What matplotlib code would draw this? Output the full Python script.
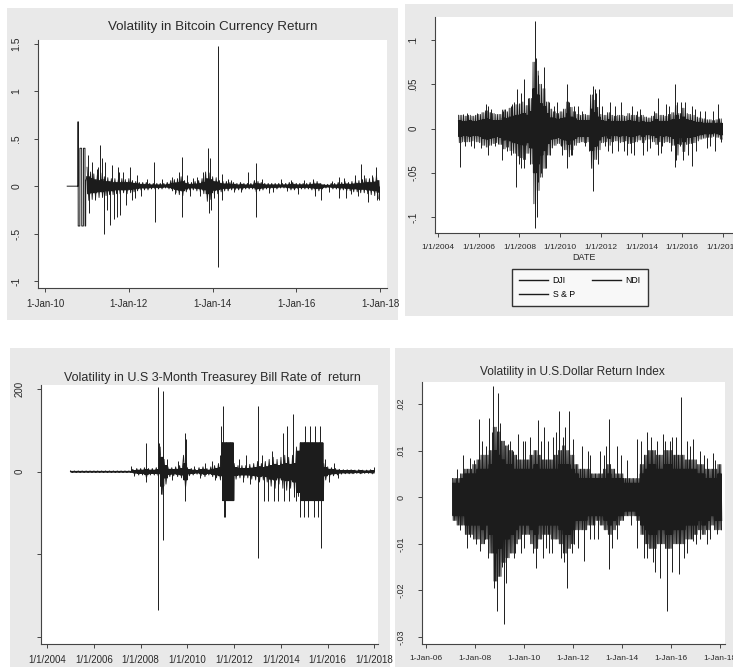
import numpy as np
import pandas as pd
import matplotlib
matplotlib.use("Agg")
import matplotlib.pyplot as plt
import matplotlib.dates as mdates
from matplotlib.lines import Line2D
from matplotlib.patches import Rectangle

plt.rcParams['font.family'] = ['Liberation Sans', 'DejaVu Sans']

INK = '#1c1c1c'
TXT = '#2a2a2a'
BG = '#e9e9e9'

# ---------------- Panel 1: Bitcoin ----------------
btc_title = "Volatility in Bitcoin Currency Return"
btc_early_dates = ['2010-07-12', '2010-10-14', '2010-10-15', '2010-10-16', '2010-10-30', '2010-10-31',
                   '2010-11-15', '2010-11-16', '2010-11-30', '2010-12-01', '2010-12-14', '2010-12-15',
                   '2010-12-20', '2010-12-21', '2010-12-31']
btc_early_vals = [0, 0, 0.68, -0.42, -0.42, 0.40,
                  0.40, -0.42, -0.42, 0.40, 0.40, -0.42,
                  -0.42, 0.05, 0.10]
btc_band_start = '2011-01-01'
# outer envelope (monthly)
btc_outer_hi = [.20, .15, .13, .12, .14, .10, .09, .08, .08, .07, .08, .07,
                .08, .06, .05, .04, .04, .04, .03, .03, .03, .03, .03, .04,
                .06, .07, .08, .10, .06, .04, .04, .05, .06, .08, .15, .14,
                .10, .09, .06, .05, .05, .04, .04, .03, .04, .03, .03, .03,
                .06, .05, .04, .03, .03, .03, .03, .03, .03, .03, .04, .04,
                .03, .03, .03, .03, .04, .05, .05, .03, .02, .02, .03, .03,
                .04, .04, .05, .04, .05, .06, .06, .07, .08, .08, .09, .12]
btc_outer_lo = [-.15, -.14, -.13, -.12, -.12, -.10, -.09, -.09, -.08, -.08, -.07, -.08,
                -.07, -.06, -.05, -.04, -.04, -.04, -.03, -.03, -.03, -.03, -.02, -.03,
                -.05, -.07, -.09, -.10, -.06, -.04, -.04, -.05, -.06, -.08, -.16, -.14,
                -.09, -.08, -.06, -.05, -.05, -.04, -.04, -.04, -.04, -.03, -.03, -.03,
                -.06, -.05, -.04, -.03, -.03, -.03, -.03, -.02, -.02, -.03, -.04, -.04,
                -.03, -.03, -.03, -.03, -.04, -.05, -.05, -.03, -.02, -.02, -.03, -.03,
                -.04, -.04, -.05, -.05, -.06, -.06, -.07, -.07, -.08, -.09, -.10, -.13]
# dense dark core (monthly)
btc_core_hi = [.10, .08, .07, .06, .07, .05, .05, .04, .04, .04, .04, .04,
               .04, .03, .03, .02, .02, .02, .015, .015, .015, .015, .015, .02,
               .03, .035, .04, .05, .03, .02, .02, .025, .03, .04, .08, .07,
               .05, .045, .03, .025, .025, .02, .02, .015, .02, .015, .015, .015,
               .03, .025, .02, .015, .015, .015, .015, .015, .015, .015, .02, .02,
               .015, .015, .015, .015, .02, .025, .025, .015, .01, .01, .015, .015,
               .02, .02, .025, .02, .025, .03, .03, .035, .04, .04, .045, .06]
btc_core_lo = [-.08, -.07, -.07, -.06, -.06, -.05, -.05, -.05, -.04, -.04, -.04, -.04,
               -.035, -.03, -.025, -.02, -.02, -.02, -.015, -.015, -.015, -.015, -.01, -.015,
               -.025, -.035, -.045, -.05, -.03, -.02, -.02, -.025, -.03, -.04, -.08, -.07,
               -.045, -.04, -.03, -.025, -.025, -.02, -.02, -.02, -.02, -.015, -.015, -.015,
               -.03, -.025, -.02, -.015, -.015, -.015, -.015, -.01, -.01, -.015, -.02, -.02,
               -.015, -.015, -.015, -.015, -.02, -.025, -.025, -.015, -.01, -.01, -.015, -.015,
               -.02, -.02, -.025, -.025, -.03, -.03, -.035, -.035, -.04, -.045, -.05, -.065]
btc_spike_dates = ['2011-01-10', '2011-01-20', '2011-02-15', '2011-03-10', '2011-04-05', '2011-04-25',
                   '2011-05-10', '2011-05-30', '2011-06-10', '2011-06-20', '2011-07-20', '2011-08-05',
                   '2011-08-25', '2011-09-20', '2011-09-28', '2011-10-20', '2011-11-15', '2011-12-10',
                   '2012-01-15', '2012-01-25', '2012-03-10', '2012-04-20', '2012-08-10', '2012-08-15',
                   '2012-10-15', '2013-01-15', '2013-03-10', '2013-04-10', '2013-04-12', '2013-05-20',
                   '2013-06-15', '2013-08-20', '2013-10-10', '2013-11-18', '2013-11-28', '2013-12-10',
                   '2013-12-20', '2014-02-13', '2014-02-14', '2014-03-20', '2014-03-28', '2014-05-15',
                   '2014-07-10', '2014-11-10', '2015-01-14', '2015-01-16', '2015-03-10', '2015-06-10',
                   '2015-08-18', '2015-10-10', '2016-01-15', '2016-05-28', '2016-06-15', '2016-08-05',
                   '2016-11-10', '2017-01-05', '2017-01-12', '2017-03-10', '2017-05-25', '2017-06-20',
                   '2017-07-20', '2017-08-10', '2017-09-15', '2017-10-20', '2017-11-29', '2017-12-10',
                   '2017-12-22', '2011-03-25', '2011-06-01', '2011-10-05', '2012-02-20', '2012-06-10',
                   '2013-02-10', '2013-07-10', '2013-09-15', '2014-01-10', '2014-06-10', '2014-09-10',
                   '2015-05-10', '2015-11-20', '2016-03-10', '2016-10-10', '2017-02-20', '2017-04-20']
btc_spike_vals = [0.33, -0.28, 0.25, -0.15, 0.20, 0.43,
                  0.30, -0.50, 0.25, -0.25, -0.41, 0.22,
                  -0.35, -0.33, 0.20, -0.30, 0.15, -0.20,
                  0.20, -0.15, 0.12, -0.10, 0.25, -0.38,
                  0.08, 0.10, 0.15, 0.31, -0.33, 0.12,
                  -0.10, 0.10, 0.15, 0.40, -0.28, 0.30,
                  -0.25, 1.48, -0.85, 0.13, -0.15, 0.08,
                  -0.06, 0.15, 0.24, -0.32, 0.08, -0.06,
                  0.08, -0.05, -0.08, 0.08, -0.10, -0.15,
                  0.05, 0.10, -0.12, -0.12, 0.12, -0.10,
                  0.23, 0.12, -0.17, 0.12, 0.20, -0.15,
                  -0.15, 0.18, -0.22, 0.15, -0.12, 0.08,
                  -0.08, 0.09, -0.10, -0.12, 0.07, -0.06,
                  -0.07, 0.06, 0.07, -0.06, 0.09, -0.08]
btc_ticks = ['2010-01-01', '2012-01-01', '2014-01-01', '2016-01-01', '2018-01-01']
btc_yticks = [-1, -0.5, 0, 0.5, 1, 1.5]
btc_ylabels = ['-1', '-.5', '0', '.5', '1', '1.5']

# ---------------- Panel 2: Stock indices ----------------
stk_series = ['DJI', 'S & P', 'NDI']
stk_band_start = '2005-01-01'
stk_outer_hi = [.015, .015, .014, .015, .014, .015,
                .016, .018, .020, .018, .017, .016,
                .016, .021, .019, .023, .025, .027,
                .028, .030, .026, .034, .075, .065,
                .050, .045, .030, .022, .019, .017,
                .019, .022, .030, .024, .019, .016,
                .015, .016, .015, .038, .032, .024,
                .016, .015, .018, .015, .014, .015,
                .015, .014, .017, .015, .015, .013,
                .015, .013, .012, .014, .017, .015,
                .015, .014, .016, .018, .026, .017,
                .023, .017, .016, .015, .013, .012,
                .011, .010, .010, .009, .010, .011]
stk_outer_lo = [-.016, -.015, -.015, -.015, -.014, -.015,
                -.016, -.019, -.021, -.019, -.017, -.016,
                -.018, -.023, -.021, -.025, -.028, -.031,
                -.033, -.035, -.028, -.040, -.085, -.070,
                -.055, -.045, -.030, -.022, -.019, -.017,
                -.019, -.024, -.032, -.024, -.019, -.016,
                -.015, -.016, -.015, -.045, -.035, -.024,
                -.016, -.015, -.019, -.015, -.014, -.016,
                -.015, -.014, -.017, -.016, -.015, -.013,
                -.016, -.013, -.012, -.015, -.018, -.015,
                -.016, -.015, -.016, -.019, -.030, -.018,
                -.026, -.018, -.017, -.016, -.014, -.012,
                -.011, -.010, -.010, -.009, -.010, -.012]
stk_core_hi = [.009, .008, .008, .009, .008, .008,
               .009, .010, .011, .010, .009, .009,
               .009, .012, .011, .013, .014, .015,
               .016, .017, .015, .019, .045, .038,
               .028, .025, .017, .012, .011, .010,
               .011, .012, .017, .013, .011, .009,
               .009, .009, .009, .022, .018, .013,
               .009, .008, .010, .008, .008, .008,
               .008, .008, .009, .008, .008, .007,
               .008, .007, .007, .008, .010, .008,
               .008, .008, .009, .010, .015, .010,
               .013, .010, .009, .008, .007, .007,
               .006, .006, .006, .005, .006, .006]
stk_core_lo = [-.009, -.008, -.008, -.009, -.008, -.008,
               -.009, -.011, -.012, -.011, -.010, -.009,
               -.010, -.013, -.012, -.014, -.016, -.017,
               -.018, -.019, -.016, -.022, -.050, -.040,
               -.030, -.025, -.017, -.012, -.011, -.010,
               -.011, -.013, -.018, -.013, -.011, -.009,
               -.009, -.009, -.009, -.025, -.020, -.013,
               -.009, -.008, -.011, -.008, -.008, -.009,
               -.008, -.008, -.009, -.009, -.008, -.007,
               -.009, -.007, -.007, -.008, -.010, -.008,
               -.009, -.008, -.009, -.011, -.017, -.010,
               -.015, -.010, -.010, -.009, -.008, -.007,
               -.006, -.006, -.006, -.005, -.006, -.007]
stk_spike_dates = ['2005-01-20', '2005-03-15', '2005-04-20', '2005-10-15', '2006-05-15', '2006-06-10',
                   '2006-06-20', '2006-10-10', '2007-02-27', '2007-03-10', '2007-07-25', '2007-08-10',
                   '2007-08-15', '2007-11-08', '2007-11-20', '2007-12-15', '2008-01-20', '2008-01-25',
                   '2008-03-15', '2008-03-18', '2008-06-10', '2008-07-15', '2008-09-29', '2008-10-10',
                   '2008-10-13', '2008-10-28', '2008-11-15', '2008-11-20', '2008-12-05', '2009-01-20',
                   '2009-03-10', '2009-03-20', '2009-04-20', '2009-06-15', '2009-11-10', '2010-01-20',
                   '2010-05-06', '2010-05-10', '2010-06-15', '2010-07-15', '2010-09-01', '2011-03-15',
                   '2011-08-08', '2011-08-09', '2011-08-20', '2011-09-20', '2011-10-10', '2011-11-10',
                   '2011-11-30', '2012-05-10', '2012-06-10', '2012-11-10', '2013-01-02', '2013-04-15',
                   '2013-06-20', '2013-10-15', '2014-02-03', '2014-04-10', '2014-08-10', '2014-10-15',
                   '2014-10-20', '2015-01-05', '2015-03-20', '2015-06-20', '2015-08-24', '2015-08-26',
                   '2015-09-15', '2015-10-05', '2015-11-20', '2016-01-07', '2016-02-15', '2016-06-24',
                   '2016-06-28', '2016-09-10', '2016-11-10', '2017-05-17', '2017-08-15', '2017-10-10',
                   '2017-12-01',
                   '2005-06-10', '2005-08-10', '2005-12-05', '2006-02-10', '2006-08-10', '2006-12-10',
                   '2007-04-20', '2007-05-20', '2007-10-01', '2009-07-10', '2009-09-10', '2010-02-05',
                   '2010-08-10', '2010-11-10', '2011-01-20', '2011-06-10', '2012-01-20', '2012-03-10',
                   '2012-07-20', '2012-09-10', '2013-02-20', '2013-07-10', '2013-08-20', '2013-12-10',
                   '2014-06-10', '2014-12-10', '2015-05-10', '2015-12-10', '2016-04-10', '2016-08-10',
                   '2017-02-10', '2017-03-20', '2017-07-10']
stk_spike_vals = [-0.043, 0.016, -0.020, -0.022, 0.028, -0.030,
                  0.025, -0.020, -0.035, 0.020, 0.025, -0.030,
                  0.028, -0.066, 0.045, -0.040, -0.045, 0.040,
                  0.056, -0.045, 0.035, -0.040, -0.088, 0.121,
                  -0.112, 0.080, -0.100, 0.060, -0.060, -0.050,
                  0.070, 0.055, -0.045, 0.030, 0.030, -0.020,
                  -0.045, 0.050, 0.030, -0.030, 0.025, -0.020,
                  -0.070, 0.048, -0.050, 0.045, 0.040, -0.040,
                  0.045, -0.025, 0.030, -0.025, 0.030, -0.030,
                  -0.028, 0.020, -0.030, -0.025, 0.020, -0.030,
                  0.035, -0.020, 0.028, -0.025, -0.043, 0.050,
                  -0.035, 0.030, -0.020, -0.035, 0.030, -0.042,
                  0.025, -0.025, 0.020, -0.020, -0.025, 0.028,
                  -0.015,
                  0.018, -0.020, 0.017, -0.022, 0.022, -0.018,
                  0.022, -0.025, 0.030, -0.030, 0.025, -0.030,
                  -0.030, 0.025, 0.020, -0.025, 0.025, -0.020,
                  -0.028, 0.025, -0.025, 0.025, -0.030, 0.022,
                  -0.022, -0.028, 0.025, 0.030, -0.030, 0.022,
                  0.020, -0.022, 0.020]
stk_ticks = ['2004-01-01', '2006-01-01', '2008-01-01', '2010-01-01', '2012-01-01',
             '2014-01-01', '2016-01-01', '2018-01-01']
stk_yticks = [-0.1, -0.05, 0, 0.05, 0.1]
stk_ylabels = ['-.1', '-.05', '0', '.05', '.1']

# ---------------- Panel 3: T-bill ----------------
tb_title = "Volatility in U.S 3-Month Treasurey Bill Rate of  return"
tb_band_start = '2005-01-01'
tb_outer_hi = [2, 2, 2, 2, 2, 2,
               2, 2, 2, 2, 2, 2,
               2, 2, 2, 2, 6, 8,
               8, 10, 8, 8, 10, 60,
               30, 12, 10, 12, 15, 40,
               10, 8, 6, 10, 12, 8,
               12, 15, 20, 70, 70, 70,
               20, 15, 15, 15, 18, 20,
               25, 20, 25, 30, 35, 30,
               35, 40, 35, 40, 60, 70,
               70, 70, 70, 70, 70, 20,
               12, 10, 8, 6, 5, 5,
               5, 4, 5, 4, 4, 5]
tb_outer_lo = [-2, -2, -2, -2, -2, -2,
               -2, -2, -2, -2, -2, -2,
               -2, -2, -2, -2, -6, -8,
               -8, -15, -8, -8, -10, -55,
               -30, -12, -10, -12, -15, -40,
               -10, -8, -6, -10, -12, -8,
               -12, -15, -20, -70, -70, -70,
               -18, -15, -15, -15, -18, -20,
               -25, -20, -25, -35, -40, -30,
               -40, -45, -40, -50, -60, -70,
               -70, -70, -70, -70, -70, -20,
               -12, -10, -8, -6, -5, -5,
               -5, -4, -5, -4, -4, -5]
tb_core_hi = [1, 1, 1, 1, 1, 1,
              1, 1, 1, 1, 1, 1,
              1, 1, 1, 1, 3, 4,
              4, 5, 4, 4, 5, 35,
              15, 6, 5, 6, 8, 20,
              5, 4, 3, 5, 6, 4,
              6, 8, 10, 70, 70, 70,
              10, 8, 8, 8, 9, 10,
              12, 10, 12, 15, 18, 15,
              18, 20, 18, 20, 50, 70,
              70, 70, 70, 70, 70, 10,
              6, 5, 4, 3, 3, 3,
              3, 2, 3, 2, 2, 3]
tb_core_lo = [-1, -1, -1, -1, -1, -1,
              -1, -1, -1, -1, -1, -1,
              -1, -1, -1, -1, -3, -4,
              -4, -7, -4, -4, -5, -35,
              -15, -6, -5, -6, -8, -20,
              -5, -4, -3, -5, -6, -4,
              -6, -8, -10, -70, -70, -70,
              -9, -8, -8, -8, -9, -10,
              -12, -10, -12, -18, -20, -15,
              -20, -22, -20, -25, -50, -70,
              -70, -70, -70, -70, -70, -10,
              -6, -5, -4, -3, -3, -3,
              -3, -2, -3, -2, -2, -3]
tb_spike_dates = ['2007-08-10', '2007-09-15', '2008-03-20', '2008-03-25', '2008-09-22', '2008-09-24',
                  '2008-10-20', '2008-11-10', '2008-12-15', '2008-12-18', '2009-02-10', '2009-05-10',
                  '2009-08-10', '2009-11-25', '2009-12-01', '2009-12-10', '2010-04-10', '2010-07-10',
                  '2010-10-10', '2011-01-15', '2011-03-10', '2011-05-20', '2011-06-15', '2011-07-10',
                  '2011-07-20', '2011-08-10', '2012-03-10', '2012-05-15', '2012-07-10', '2012-09-10',
                  '2012-12-31', '2013-01-03', '2013-03-10', '2013-04-10', '2013-06-20', '2013-08-20',
                  '2013-09-20', '2013-11-10', '2014-01-30', '2014-02-20', '2014-04-10', '2014-05-10',
                  '2014-07-05', '2014-07-20', '2014-08-25', '2014-10-30', '2014-12-20', '2015-01-15',
                  '2015-03-05', '2015-04-01', '2015-05-25', '2015-06-20', '2015-08-10', '2015-09-05',
                  '2015-09-15', '2015-11-20', '2016-01-20', '2016-04-10', '2016-06-10', '2017-12-20']
tb_spike_vals = [15, -10, 70, -25, 205, -335,
                 70, -55, 195, -165, 30, -20,
                 25, 93, -70, 80, 15, -15,
                 20, 25, -20, 40, 110, 160,
                 -110, -110, 30, -25, 40, -30,
                 160, -209, 40, -70, -70, 50,
                 -70, -70, 94, -70, 111, -70,
                 140, -60, -70, -110, -110, 110,
                 -110, 110, -110, 110, -110, 110,
                 -185, 30, -25, 20, -15, 12]
tb_ticks = ['2004-01-01', '2006-01-01', '2008-01-01', '2010-01-01', '2012-01-01',
            '2014-01-01', '2016-01-01', '2018-01-01']
tb_yticks = [-400, -200, 0, 200]
tb_ylabels = ['', '', '0', '200']

# ---------------- Panel 4: USD ----------------
usd_title = "Volatility in U.S.Dollar Return Index"
usd_band_start = '2007-02-01'
usd_outer_hi = [.004, .004, .005, .006, .006, .007,
                .008, .009, .009, .010, .015, .014,
                .012, .011, .010, .009, .008, .008,
                .008, .009, .010, .009, .008, .008,
                .008, .009, .010, .011, .010, .009,
                .007, .006, .006, .006, .005, .005,
                .005, .006, .007, .006, .005, .005,
                .004, .004, .004, .004, .007, .009,
                .010, .010, .009, .009, .010, .010,
                .009, .009, .009, .008, .008, .008,
                .007, .007, .006, .006, .006, .007]
usd_outer_lo = [-.005, -.006, -.006, -.008, -.008, -.009,
                -.009, -.010, -.009, -.012, -.018, -.017,
                -.014, -.013, -.012, -.010, -.009, -.008,
                -.008, -.010, -.011, -.009, -.008, -.008,
                -.009, -.009, -.010, -.012, -.011, -.010,
                -.007, -.007, -.007, -.006, -.006, -.005,
                -.006, -.007, -.008, -.007, -.006, -.005,
                -.004, -.004, -.004, -.005, -.008, -.010,
                -.011, -.011, -.010, -.010, -.011, -.011,
                -.010, -.010, -.010, -.009, -.009, -.008,
                -.007, -.008, -.007, -.006, -.007, -.007]
usd_core_hi = [.003, .003, .004, .005, .005, .005,
               .006, .006, .006, .007, .010, .009,
               .008, .007, .007, .006, .006, .006,
               .006, .006, .007, .006, .006, .006,
               .006, .006, .007, .007, .007, .006,
               .005, .004, .004, .004, .004, .004,
               .004, .004, .005, .004, .004, .004,
               .003, .003, .003, .003, .005, .006,
               .007, .007, .006, .006, .007, .007,
               .006, .006, .006, .006, .006, .006,
               .005, .005, .004, .004, .004, .005]
usd_core_lo = [-.004, -.004, -.004, -.006, -.006, -.006,
               -.006, -.007, -.006, -.008, -.012, -.011,
               -.009, -.009, -.008, -.007, -.006, -.006,
               -.006, -.007, -.008, -.006, -.006, -.006,
               -.006, -.006, -.007, -.008, -.008, -.007,
               -.005, -.005, -.005, -.004, -.004, -.004,
               -.004, -.005, -.006, -.005, -.004, -.004,
               -.003, -.003, -.003, -.004, -.006, -.007,
               -.008, -.008, -.007, -.007, -.008, -.008,
               -.007, -.007, -.007, -.006, -.006, -.006,
               -.005, -.006, -.005, -.004, -.005, -.005]
usd_spike_dates = ['2007-07-08', '2007-10-15', '2007-10-20', '2008-03-07', '2008-03-12', '2008-05-30',
                   '2008-08-03', '2008-10-01', '2008-10-12', '2008-11-17', '2008-12-13', '2009-01-08',
                   '2009-03-15', '2009-04-08', '2009-05-12', '2009-07-24', '2009-07-28', '2009-10-08',
                   '2009-12-20', '2009-12-24', '2010-03-28', '2010-06-24', '2010-08-03', '2010-10-16',
                   '2010-10-20', '2010-12-28', '2011-01-02', '2011-03-15', '2011-05-30', '2011-08-08',
                   '2011-08-12', '2011-10-08', '2011-10-27', '2012-01-05', '2012-01-09', '2012-05-08',
                   '2012-06-17', '2012-09-10', '2012-09-14', '2013-02-06', '2013-05-08', '2013-06-25',
                   '2013-06-21', '2013-10-12', '2013-10-16', '2014-03-10', '2014-08-08', '2014-08-12',
                   '2015-01-02', '2015-01-06', '2015-05-08', '2015-07-20', '2015-09-10', '2015-10-05',
                   '2015-11-08', '2016-01-12', '2016-01-16', '2016-05-05', '2016-05-30', '2016-08-22',
                   '2016-08-26', '2016-11-18', '2016-11-22', '2017-03-08', '2017-03-12', '2017-06-18',
                   '2017-06-22', '2017-09-24', '2017-11-10',
                   '2007-04-10', '2007-05-20', '2007-09-01', '2007-12-10', '2008-01-15', '2008-04-20',
                   '2008-06-20', '2008-07-10', '2008-09-05', '2009-02-10', '2009-06-10', '2009-08-20',
                   '2009-11-10', '2010-01-20', '2010-05-10', '2010-09-10', '2010-11-20', '2011-02-15',
                   '2011-04-20', '2011-07-10', '2011-09-10', '2011-12-10', '2012-03-10', '2012-08-10',
                   '2012-11-10', '2013-01-10', '2013-04-10', '2013-08-10', '2013-12-10', '2014-05-10',
                   '2014-10-10', '2014-11-20', '2015-03-10', '2015-04-10', '2015-06-10', '2015-12-10',
                   '2016-03-10', '2016-07-10', '2016-10-10', '2017-01-10', '2017-05-10', '2017-08-10',
                   '2017-10-20']
usd_spike_vals = [0.009, 0.0085, -0.0085, 0.0168, -0.0115, -0.009,
                  0.017, 0.0238, -0.0195, -0.0244, 0.0224, 0.016,
                  -0.0273, -0.0185, 0.0115, 0.010, -0.013, 0.0135,
                  0.012, -0.011, 0.013, -0.0151, 0.0166, -0.013,
                  0.015, 0.012, -0.012, 0.013, 0.0184, 0.013,
                  -0.014, -0.0194, 0.0184, 0.0125, -0.010, 0.011,
                  -0.0137, 0.009, -0.009, 0.010, 0.011, 0.0168,
                  -0.0155, 0.011, -0.009, 0.008, 0.0125, -0.011,
                  0.014, -0.013, -0.016, -0.0173, 0.0135, 0.012,
                  -0.0244, 0.013, -0.016, -0.0165, 0.0215, 0.012,
                  -0.012, 0.0125, -0.0095, 0.010, -0.009, 0.0085,
                  -0.010, 0.0095, -0.008,
                  0.006, -0.007, -0.011, 0.008, -0.010, 0.012,
                  0.011, -0.013, 0.014, -0.015, 0.012, -0.012,
                  -0.012, 0.012, -0.012, 0.012, -0.011, -0.012,
                  0.014, -0.013, 0.015, -0.012, -0.011, 0.010,
                  -0.009, -0.009, 0.009, -0.011, 0.009, -0.006,
                  0.012, -0.013, 0.013, -0.014, 0.012, 0.012,
                  0.013, -0.013, 0.011, -0.010, 0.009, -0.009,
                  0.008]
usd_ticks = ['2006-01-01', '2008-01-01', '2010-01-01', '2012-01-01', '2014-01-01',
             '2016-01-01', '2018-01-01']
usd_yticks = [-0.03, -0.02, -0.01, 0, 0.01, 0.02]
usd_ylabels = ['-.03', '-.02', '-.01', '0', '.01', '.02']

# ---------------- drawing ----------------
W, H = 733, 667
fig = plt.figure(figsize=(W / 100, H / 100), dpi=100)
fig.patch.set_facecolor('white')


def px_rect(x0, y0, x1, y1):
    return [x0 / W, 1 - y1 / H, (x1 - x0) / W, (y1 - y0) / H]


for (x0, y0, x1, y1) in [(7, 8, 398, 320), (405, 4, 733, 316), (10, 348, 390, 667), (395, 348, 733, 667)]:
    r = px_rect(x0, y0, x1, y1)
    fig.patches.append(Rectangle((r[0], r[1]), r[2], r[3], transform=fig.transFigure,
                                 facecolor=BG, edgecolor='none', zorder=-5))


def draw_band(ax, start, hi, lo, freq, sub, lw):
    d = pd.date_range(start, periods=len(hi) + 1, freq=freq)
    xs, ys = [], []
    for i, (h, l) in enumerate(zip(hi, lo)):
        a, b = d[i], d[i + 1]
        q = (b - a) / sub
        for k in range(sub):
            xs.append(a + k * q)
            ys.append(h if k % 2 == 0 else l)
    ax.plot(xs, ys, color=INK, lw=lw, zorder=2)


def draw_spikes(ax, dates, vals):
    ax.vlines(pd.to_datetime(dates), 0, vals, color=INK, lw=0.7, zorder=3)


def style(ax, xlim, ylim, xticks, fmt, yticks, ylabels, fsx, fsy):
    ax.set_zorder(2)
    ax.set_facecolor('white')
    ax.set_xlim(pd.Timestamp(xlim[0]), pd.Timestamp(xlim[1]))
    ax.set_ylim(*ylim)
    ax.set_xticks(pd.to_datetime(xticks))
    ax.xaxis.set_major_formatter(mdates.DateFormatter(fmt))
    ax.set_yticks(yticks)
    ax.set_yticklabels(ylabels, rotation=90, va='center')
    for s in ['top', 'right']:
        ax.spines[s].set_visible(False)
    for s in ['left', 'bottom']:
        ax.spines[s].set_color('#444444')
        ax.spines[s].set_linewidth(0.8)
    ax.tick_params(axis='x', length=3, width=0.7, color='#444444', labelsize=fsx, labelcolor=TXT, pad=5)
    ax.tick_params(axis='y', length=3, width=0.7, color='#444444', labelsize=fsy, labelcolor=TXT, pad=9)


# Panel 1
ax1 = fig.add_axes(px_rect(38, 40, 387, 288))
ax1.plot(pd.to_datetime(btc_early_dates), btc_early_vals, color=INK, lw=0.7, zorder=2)
draw_band(ax1, btc_band_start, btc_outer_hi, btc_outer_lo, 'MS', 2, 0.6)
draw_band(ax1, btc_band_start, btc_core_hi, btc_core_lo, 'MS', 6, 0.8)
draw_spikes(ax1, btc_spike_dates, btc_spike_vals)
style(ax1, ('2009-10-30', '2018-03-03'), (-1.074, 1.542), btc_ticks, '1-%b-%y',
      btc_yticks, btc_ylabels, 7, 7.5)
fig.text(213 / W, 1 - 27 / H, btc_title, ha='center', va='center', fontsize=9.6, color=TXT)

# Panel 2
ax2 = fig.add_axes(px_rect(435, 17, 733, 233))
draw_band(ax2, stk_band_start, stk_outer_hi, stk_outer_lo, '2MS', 4, 0.6)
draw_band(ax2, stk_band_start, stk_core_hi, stk_core_lo, '2MS', 8, 0.8)
draw_spikes(ax2, stk_spike_dates, stk_spike_vals)
style(ax2, ('2003-11-06', '2018-07-01'), (-0.118, 0.126), stk_ticks, '%-m/%-d/%Y',
      stk_yticks, stk_ylabels, 6, 7)
ax2.set_xlabel('DATE', fontsize=6.5, color=TXT, labelpad=1)
handles = [Line2D([], [], color=INK, lw=1.0) for _ in stk_series]
fig.legend(handles, stk_series, ncol=2, loc='center', bbox_to_anchor=(580 / W, 1 - 287.5 / H),
           fontsize=6.3, frameon=True, fancybox=False, edgecolor='#333333', facecolor='#f8f8f8',
           framealpha=1, handlelength=3.3, columnspacing=2.0, handletextpad=0.5,
           borderpad=0.8, labelspacing=0.6)

# Panel 3
ax3 = fig.add_axes(px_rect(41, 385, 378, 644))
draw_band(ax3, tb_band_start, tb_outer_hi, tb_outer_lo, '2MS', 2, 0.6)
draw_band(ax3, tb_band_start, tb_core_hi, tb_core_lo, '2MS', 8, 0.8)
draw_spikes(ax3, tb_spike_dates, tb_spike_vals)
style(ax3, ('2003-09-27', '2018-02-25'), (-417, 210), tb_ticks, '%-m/%-d/%Y',
      tb_yticks, tb_ylabels, 7, 7)
fig.text(212 / W, 1 - 378 / H, tb_title, ha='center', va='center', fontsize=9, color=TXT)

# Panel 4
ax4 = fig.add_axes(px_rect(422, 382, 725, 644))
draw_band(ax4, usd_band_start, usd_outer_hi, usd_outer_lo, '2MS', 6, 0.7)
draw_band(ax4, usd_band_start, usd_core_hi, usd_core_lo, '2MS', 8, 0.8)
draw_spikes(ax4, usd_spike_dates, usd_spike_vals)
style(ax4, ('2005-11-02', '2018-03-15'), (-0.0315, 0.0247), usd_ticks, '1-%b-%y',
      usd_yticks, usd_ylabels, 6, 6.5)
fig.text(572 / W, 1 - 372 / H, usd_title, ha='center', va='center', fontsize=8.6, color=TXT)

fig.savefig('out.png', dpi=100, facecolor='white')
